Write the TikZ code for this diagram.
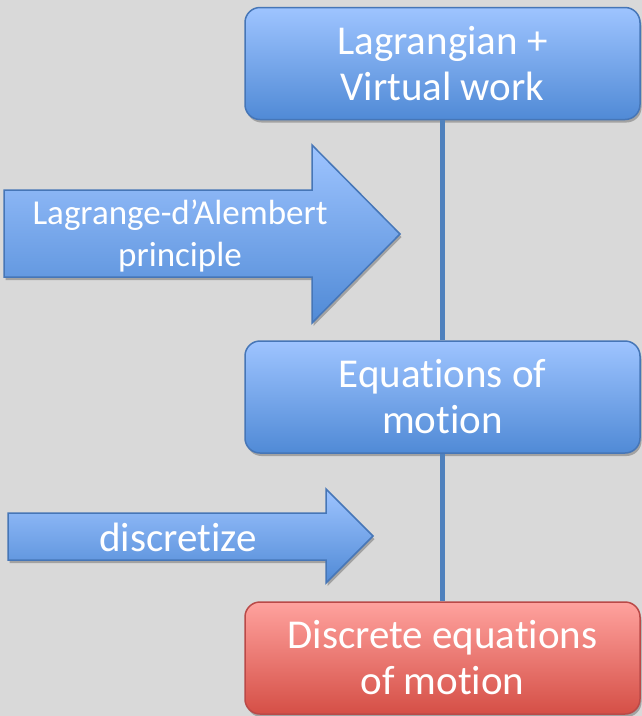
\documentclass[tikz,border=0pt]{standalone}
\usepackage{fontspec}
\setmainfont{Carlito}[Ligatures=NoCommon]
\usetikzlibrary{shadows}
\definecolor{bgray}{RGB}{217,217,217}
\definecolor{bluetop}{RGB}{158,196,255}
\definecolor{bluebot}{RGB}{80,138,214}
\definecolor{blueedge}{RGB}{70,118,183}
\definecolor{blueline}{RGB}{79,129,189}
\definecolor{redtop}{RGB}{255,162,158}
\definecolor{redbot}{RGB}{213,79,70}
\definecolor{rededge}{RGB}{186,74,72}
\tikzset{
  box/.style={rounded corners=15pt, minimum width=395pt, minimum height=112pt, align=center, inner sep=0pt, text=white, line width=1.5pt, font=\fontsize{41}{46}\selectfont, drop shadow={shadow xshift=1.5pt, shadow yshift=-3pt, opacity=0.25, fill=black}},
  bluebox/.style={box, draw=blueedge, top color=bluetop, bottom color=bluebot},
  redbox/.style={box, draw=rededge, top color=redtop, bottom color=redbot},
  bigarrow/.style={draw=blueedge, line width=1.5pt, top color=bluetop, bottom color=bluebot, drop shadow={shadow xshift=1.5pt, shadow yshift=-3pt, opacity=0.25, fill=black}},
  arrowtext/.style={align=center, inner sep=0pt, text=white},
  link/.style={draw=blueline, line width=4.5pt}
}
\begin{document}
\begin{tikzpicture}[x=1pt,y=-1pt]
\fill[bgray] (0,0) rectangle (642,716);
\useasboundingbox (0,0) rectangle (642,716);
\node[bluebox] (lag) at (442.5,63.5) {Lagrangian +\\Virtual work};
\node[bluebox] (eom) at (442.5,397) {Equations of\\motion};
\node[redbox] (deom) at (442.5,658) {Discrete equations\\of motion};
\path[bigarrow] (4,190) -- (312,190) -- (312,145) -- (400,234) -- (312,323) -- (312,277) -- (4,277) -- cycle;
\node[arrowtext, font=\fontsize{35}{42}\selectfont] (lda) at (180,236) {Lagrange-d’Alembert\\principle};
\path[bigarrow] (8,513) -- (326,513) -- (326,489) -- (373,536) -- (326,583) -- (326,560) -- (8,560) -- cycle;
\node[arrowtext, font=\fontsize{41}{46}\selectfont] (disc) at (178,537) {discretize};
\draw[link] (lag) -- (eom);
\draw[link] (eom) -- (deom);
\end{tikzpicture}
\end{document}
